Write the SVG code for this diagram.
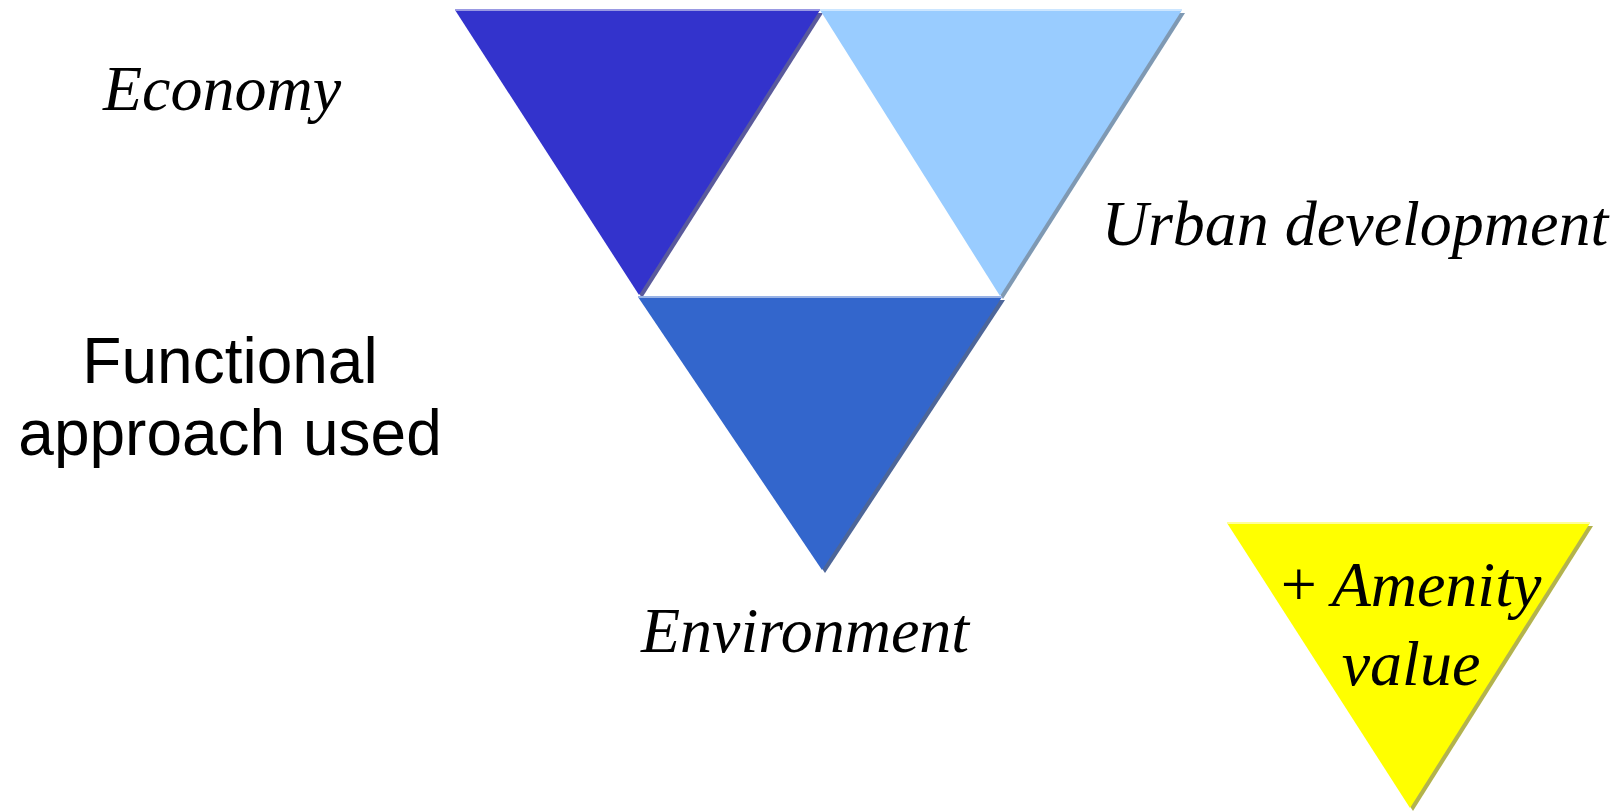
<svg xmlns="http://www.w3.org/2000/svg" width="1622" height="812" viewBox="0 0 1622 812">
  <style>
    .lbl { font-family: "Liberation Serif", "Times New Roman", serif; font-style: italic; font-size: 64px; fill: #000; }
    .sans { font-family: "Liberation Sans", Arial, sans-serif; font-size: 64px; fill: #000; }
    .hl { stroke-width: 2; fill: none; }
  </style>
  <rect x="0" y="0" width="1622" height="812" fill="#ffffff"/>

  <g id="economy">
    <polygon points="458,13 823,13 642,298" fill="#5a5a9c"/>
    <polygon points="455,10 820,10 639,295" fill="#3333CC"/>
    <line class="hl" x1="455" y1="10" x2="820" y2="10" stroke="#9999e3"/>
  </g>

  <g id="urban">
    <polygon points="823,13 1185,13 1003,299" fill="#7f99b3"/>
    <polygon points="820,10 1182,10 1000,296" fill="#99CCFF"/>
    <line class="hl" x1="820" y1="10" x2="1182" y2="10" stroke="#cce6ff"/>
  </g>

  <g id="environment">
    <polygon points="641,300 1005,300 825,573" fill="#4d6699"/>
    <polygon points="638,297 1002,297 822,570" fill="#3366CC"/>
    <line class="hl" x1="638" y1="297" x2="1002" y2="297" stroke="#99b3e6"/>
  </g>

  <g id="amenity">
    <polygon points="1230,526 1593,526 1413,811" fill="#b3b34d"/>
    <polygon points="1227,523 1590,523 1410,808" fill="#FFFF00"/>
    <line class="hl" x1="1227" y1="523" x2="1590" y2="523" stroke="#ffff99"/>
    <text class="lbl" x="1411" y="606" text-anchor="middle" font-size="62"><tspan font-style="normal">+</tspan> Amenity</text>
    <text class="lbl" x="1411" y="685" text-anchor="middle" font-size="62">value</text>
  </g>

  <g id="labels">
    <text class="lbl" x="222" y="110" text-anchor="middle">Economy</text>
    <text class="lbl" x="1355" y="245" text-anchor="middle">Urban development</text>
    <text class="lbl" x="805" y="652" text-anchor="middle">Environment</text>
    <text class="sans" x="230" y="383" text-anchor="middle">Functional</text>
    <text class="sans" x="230" y="455" text-anchor="middle">approach used</text>
  </g>

  <g id="connectors"></g>
</svg>
